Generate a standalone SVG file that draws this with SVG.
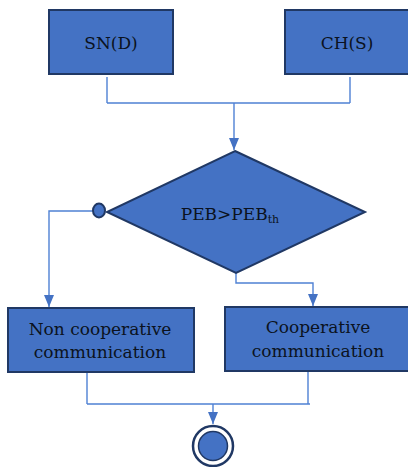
<svg xmlns="http://www.w3.org/2000/svg" width="408" height="467" viewBox="0 0 408 467">
  <defs>
    <style>
      .node { fill: #4472C4; stroke: #203864; stroke-width: 2; }
      .edge { fill: none; stroke: #4F81D4; stroke-width: 1.4; }
      .label { font-family: "DejaVu Serif", "Liberation Serif", serif; font-size: 17px; fill: #0b1220; text-anchor: middle; }
    </style>
    <marker id="arrow" viewBox="0 0 12 10" refX="12" refY="5" markerWidth="12" markerHeight="10" markerUnits="userSpaceOnUse" orient="auto">
      <path d="M0,0 L12,5 L0,10 Z" fill="#4472C4"/>
    </marker>
  </defs>
  <rect width="408" height="467" fill="#ffffff"/>

  <g id="connectors">
    <path class="edge" d="M107,77 V103 M350,77 V103 M107,103 H350"/>
    <path class="edge" d="M234,103 V150" marker-end="url(#arrow)"/>
    <path class="edge" d="M93,211 H49 V307" marker-end="url(#arrow)"/>
    <path class="edge" d="M236,273 V283 H313 V306" marker-end="url(#arrow)"/>
    <path class="edge" d="M87,372 V404 M308,371 V404 M87,404 H310"/>
    <path class="edge" d="M213,404 V424" marker-end="url(#arrow)"/>
  </g>

  <g id="sn-d">
    <rect class="node" x="49" y="10" width="124" height="64"/>
    <text class="label" x="111" y="49">SN(D)</text>
  </g>

  <g id="ch-s">
    <rect class="node" x="285" y="10" width="130" height="64"/>
    <text class="label" x="347" y="49">CH(S)</text>
  </g>

  <g id="decision">
    <polygon class="node" points="235,151 365,212 236,273 107,212"/>
    <ellipse class="node" cx="99" cy="210.5" rx="6" ry="7"/>
    <text class="label" x="230" y="220">PEB&gt;PEB<tspan font-size="11" dy="3">th</tspan></text>
  </g>

  <g id="non-cooperative">
    <rect class="node" x="8" y="308" width="186" height="64"/>
    <text class="label" x="100" y="335">Non cooperative</text>
    <text class="label" x="100" y="358">communication</text>
  </g>

  <g id="cooperative">
    <rect class="node" x="225" y="307" width="190" height="64"/>
    <text class="label" x="318" y="333">Cooperative</text>
    <text class="label" x="318" y="357">communication</text>
  </g>

  <g id="end">
    <circle cx="213" cy="446" r="20" fill="#ffffff" stroke="#203864" stroke-width="2.5"/>
    <circle cx="213" cy="446" r="14.5" fill="#4472C4" stroke="#203864" stroke-width="1.5"/>
  </g>
</svg>
